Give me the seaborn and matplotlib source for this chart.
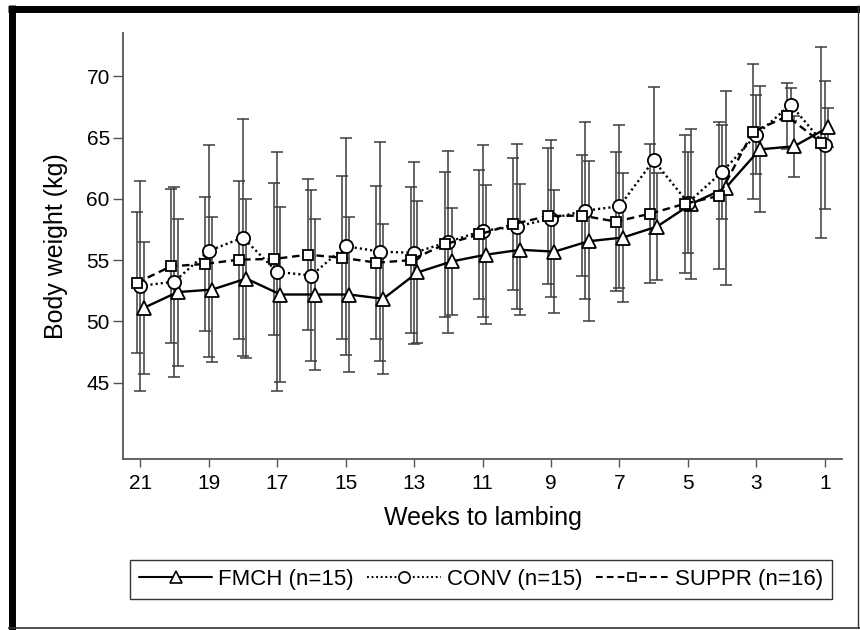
import matplotlib
matplotlib.use("Agg")
import matplotlib.pyplot as plt
from matplotlib.lines import Line2D
import numpy as np
import pandas as pd
import seaborn as sns

# ---------------- data ----------------
weeks = list(range(21, 0, -1))  # weeks to lambing: 21 ... 1

fmch_mean = [51.1, 52.4, 52.6, 53.5, 52.2, 52.2, 52.2, 51.85, 54.0, 54.9, 55.45,
             55.85, 55.7, 56.55, 56.85, 57.75, 59.6, 60.9, 64.05, 64.3, 65.85]
fmch_sd = [5.4, 6.0, 5.9, 6.5, 7.15, 6.2, 6.3, 6.1, 5.8, 4.4, 5.65,
           5.35, 5.0, 6.55, 5.25, 4.4, 6.1, 7.95, 5.15, 2.5, 1.6]

conv_mean = [52.9, 53.25, 55.75, 56.85, 54.05, 53.75, 56.15, 55.7, 55.6, 56.5, 57.4,
             57.75, 58.4, 59.05, 59.4, 63.15, 59.7, 62.2, 65.25, 67.7, 64.4]
conv_sd = [8.6, 7.75, 8.65, 9.65, 9.75, 7.0, 8.85, 8.95, 7.45, 7.45, 7.0,
           6.7, 6.4, 7.2, 6.65, 6.0, 4.15, 3.85, 3.25, 1.35, 5.2]

suppr_mean = [53.15, 54.5, 54.7, 55.05, 55.1, 55.45, 55.2, 54.8, 55.0, 56.3, 57.1,
              57.95, 58.6, 58.65, 58.15, 58.8, 59.6, 60.25, 65.5, 66.75, 64.6]
suppr_sd = [5.75, 6.3, 5.5, 6.45, 6.2, 6.15, 6.65, 6.25, 5.95, 5.9, 5.3,
            5.4, 5.55, 4.9, 5.65, 5.65, 5.65, 6.0, 5.5, 2.7, 7.8]

groups = ["FMCH", "CONV", "SUPPR"]
labels = ["FMCH (n=15)", "CONV (n=15)", "SUPPR (n=16)"]

# ---------------- styles ----------------
dodge = {"FMCH": -0.1, "CONV": 0.0, "SUPPR": 0.1}
lstyle = {"FMCH": "-", "CONV": (0, (0.9, 1.3)), "SUPPR": (0, (3.2, 2.0))}
mstyle = {"FMCH": "^", "CONV": "o", "SUPPR": "s"}
msize = {"FMCH": 10, "CONV": 9.5, "SUPPR": 7.5}

frames = []
for g, m, s in [("FMCH", fmch_mean, fmch_sd), ("CONV", conv_mean, conv_sd),
                ("SUPPR", suppr_mean, suppr_sd)]:
    frames.append(pd.DataFrame({"week": weeks, "group": g, "mean": m, "sd": s}))
df = pd.concat(frames, ignore_index=True)
df["xpos"] = df["week"] + df["group"].map(dodge)

sns.set_style("ticks")
plt.rcParams["font.family"] = ["Liberation Sans", "DejaVu Sans"]
plt.rcParams["text.color"] = "black"
plt.rcParams["axes.labelcolor"] = "black"

fig = plt.figure(figsize=(8.6, 6.3), dpi=100)
ax = fig.add_axes([123 / 860, (630 - 459) / 630, (842 - 123) / 860, (459 - 33) / 630])

# error bars (SD)
for g in groups:
    d = df[df["group"] == g]
    ax.errorbar(d["xpos"], d["mean"], yerr=d["sd"], fmt="none", ecolor="#3c3c3c",
                elinewidth=1.1, capsize=4.5, capthick=1.1, zorder=2)

# lines + markers
for g in groups:
    d = df[df["group"] == g]
    sns.lineplot(data=d, x="xpos", y="mean", ax=ax, color="black", linewidth=1.7,
                 linestyle=lstyle[g], marker=mstyle[g], markersize=msize[g],
                 markerfacecolor="white", markeredgecolor="black", markeredgewidth=1.3,
                 errorbar=None, sort=False, legend=False, zorder=3)

ax.set_xlim(21.5, 0.5)
ax.set_ylim(38.77, 73.55)
ax.set_xticks(list(range(21, 0, -2)))
ax.set_yticks([45, 50, 55, 60, 65, 70])
ax.tick_params(axis="x", length=5.5, width=1, color="#555555", pad=5.5, labelsize=15,
               labelcolor="black")
ax.tick_params(axis="y", length=7, width=1, color="#555555", pad=2.5, labelsize=15,
               labelcolor="black")
for sp in ["top", "right"]:
    ax.spines[sp].set_visible(False)
for sp in ["left", "bottom"]:
    ax.spines[sp].set_color("#555555")
    ax.spines[sp].set_linewidth(1.3)

ax.set_xlabel("Weeks to lambing", fontsize=18, labelpad=9, color="black")
ax.set_ylabel("Body weight (kg)", fontsize=18, labelpad=13, color="black")

# legend
handles = []
for g in groups:
    handles.append(Line2D([], [], color="black", linewidth=1.5, linestyle=lstyle[g],
                          marker=mstyle[g], markersize=msize[g] * 0.85,
                          markerfacecolor="white", markeredgecolor="black",
                          markeredgewidth=1.2))
leg = fig.legend(handles, labels, loc="center", bbox_to_anchor=(481 / 860, 0.0802),
                 ncol=3, fontsize=16, frameon=True, fancybox=False, edgecolor="black",
                 handlelength=3.3, handletextpad=0.27, columnspacing=0.6, borderpad=0.4,
                 labelcolor="black")
leg.get_frame().set_linewidth(1.0)

# outer frame
def fline(x0, y0, x1, y1, lw, color):
    fig.add_artist(Line2D([x0 / 860, x1 / 860], [1 - y0 / 630, 1 - y1 / 630],
                          transform=fig.transFigure, color=color, linewidth=lw,
                          solid_capstyle="butt"))

fline(8, 8.5, 860, 8.5, 5.0, "black")      # thick top
fline(11.5, 5, 11.5, 630, 5.0, "black")    # thick left
fline(8, 628, 860, 628, 1.2, "#333333")    # bottom
fline(857.5, 5, 857.5, 628, 1.0, "#333333")  # right

fig.savefig("out.png", dpi=100)
